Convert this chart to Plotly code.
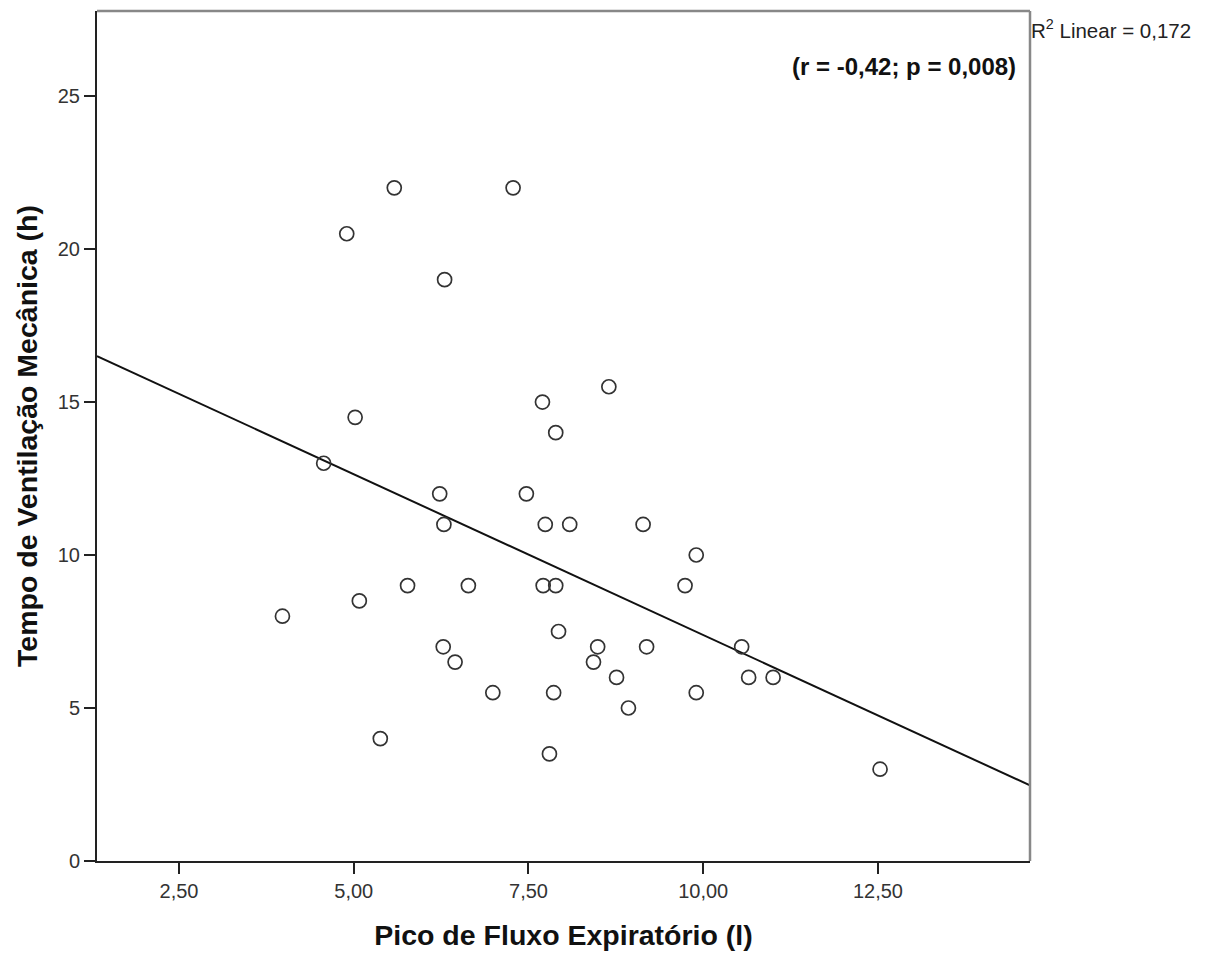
import numpy as np
import plotly.graph_objects as go

# Pico de Fluxo Expiratório (l)
pfe = [5.58, 7.28, 4.90, 6.30, 8.65, 7.70, 5.02, 7.89, 4.57, 6.23,
       7.47, 6.29, 7.74, 8.09, 9.14, 9.90, 5.77, 6.64, 7.71, 7.89,
       9.74, 5.08, 3.98, 7.93, 6.28, 8.49, 9.19, 10.55, 6.45, 8.43,
       8.76, 10.65, 11.00, 6.99, 7.86, 9.90, 8.93, 5.38, 7.80, 12.53]
# Tempo de Ventilação Mecânica (h)
tvm = [22, 22, 20.5, 19, 15.5, 15, 14.5, 14, 13, 12,
       12, 11, 11, 11, 11, 10, 9, 9, 9, 9,
       9, 8.5, 8, 7.5, 7, 7, 7, 7, 6.5, 6.5,
       6, 6, 6, 5.5, 5.5, 5.5, 5, 4, 3.5, 3]

x_ticks = [2.5, 5.0, 7.5, 10.0, 12.5]
x_ticklabels = ["2,50", "5,00", "7,50", "10,00", "12,50"]
y_ticks = [0, 5, 10, 15, 20, 25]
y_ticklabels = ["0", "5", "10", "15", "20", "25"]

x_range = [1.327, 14.675]
y_range = [0, 27.78]

slope, intercept = np.polyfit(pfe, tvm, 1)
fit_x = np.array(x_range)
fit_y = slope * fit_x + intercept

W, H = 1202, 947  # page body adds an 8px margin

fig = go.Figure()
fig.add_trace(go.Scatter(
    x=fit_x, y=fit_y, mode="lines",
    line=dict(color="#111111", width=2),
    hoverinfo="skip", showlegend=False))
fig.add_trace(go.Scatter(
    x=pfe, y=tvm, mode="markers",
    marker=dict(symbol="circle-open", size=14, color="#333333",
                line=dict(width=1.7, color="#333333")),
    showlegend=False))

fig.update_layout(
    width=W, height=H,
    margin=dict(l=89, r=180, t=3, b=94, pad=0),
    plot_bgcolor="white", paper_bgcolor="white",
    font=dict(family="Liberation Sans, Arial, sans-serif", color="#222222"),
    xaxis=dict(range=x_range, tickvals=x_ticks, ticktext=x_ticklabels,
               showgrid=False, zeroline=False, showline=True,
               linecolor="#222222", linewidth=2, ticks="outside",
               ticklen=11, tickwidth=2, tickcolor="#222222",
               tickfont=dict(size=20, color="#333333"),
               title=dict(text="<b>Pico de Fluxo Expiratório (l)</b>",
                          font=dict(size=28.5, color="#111111"), standoff=24)),
    yaxis=dict(range=y_range, tickvals=y_ticks, ticktext=y_ticklabels,
               showgrid=False, zeroline=False, showline=True,
               linecolor="#222222", linewidth=2, ticks="outside",
               ticklen=11, tickwidth=2, tickcolor="#222222",
               tickfont=dict(size=20, color="#333333"),
               title=dict(text="<b>Tempo de Ventilação Mecânica (h)</b>",
                          font=dict(size=28.5, color="#111111"), standoff=12)),
    shapes=[
        dict(type="line", xref="x domain", yref="y domain", x0=0, x1=1, y0=1, y1=1,
             line=dict(color="#888888", width=2.5)),
        dict(type="line", xref="x domain", yref="y domain", x0=1, x1=1, y0=0, y1=1,
             line=dict(color="#888888", width=2.5)),
    ],
    annotations=[
        dict(text="R<sup>2</sup> Linear = 0,172", xref="x domain", yref="paper",
             x=1.0, y=1 - 20 / H, xanchor="left", yanchor="middle", xshift=-1,
             showarrow=False, font=dict(size=20.5, color="#222222")),
        dict(text="<b>(r = -0,42; p = 0,008)</b>", xref="x domain", yref="paper",
             x=0.987, y=1 - 62 / H, xanchor="right", yanchor="middle",
             showarrow=False, font=dict(size=24, color="#111111")),
    ],
)

fig.write_html("out.html")
